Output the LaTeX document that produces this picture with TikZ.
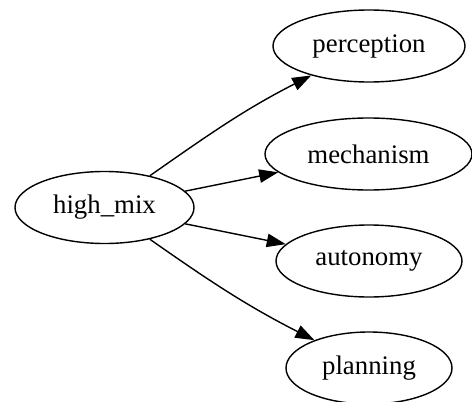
\documentclass[tikz,border=0pt]{standalone}
\usepackage{fontspec}
\setmainfont{Liberation Serif}
\usetikzlibrary{shapes,arrows.meta}
\tikzset{x=0.5pt, y=-0.5pt}
\tikzset{state/.style={ellipse, draw, line width=0.7pt, inner sep=0pt,
                       minimum height=36pt, font=\fontsize{13.4}{16}\selectfont}}
\tikzset{EdgeStyle/.style={-{Triangle[length=9.5pt,width=6.7pt]}, line width=0.7pt}}

\begin{document}
\begin{tikzpicture}
	\useasboundingbox (0,0) rectangle (472,402);
	\node[state, minimum width=89.5pt] (hm) at (104.5,207.5) {high\_mix};
	\node[state, minimum width=96pt] (per) at (369,46) {perception};
	\node[state, minimum width=103.5pt] (mech) at (368.5,154) {mechanism};
	\node[state, minimum width=93pt] (aut) at (369,261) {autonomy};
	\node[state, minimum width=83pt] (plan) at (369,368) {planning};
	\draw[EdgeStyle] (hm) to[out=35, in=207] (per);
	\draw[EdgeStyle] (hm) -- (mech);
	\draw[EdgeStyle] (hm) -- (aut);
	\draw[EdgeStyle] (hm) to[out=-35, in=153] (plan);
\end{tikzpicture}
\end{document}
